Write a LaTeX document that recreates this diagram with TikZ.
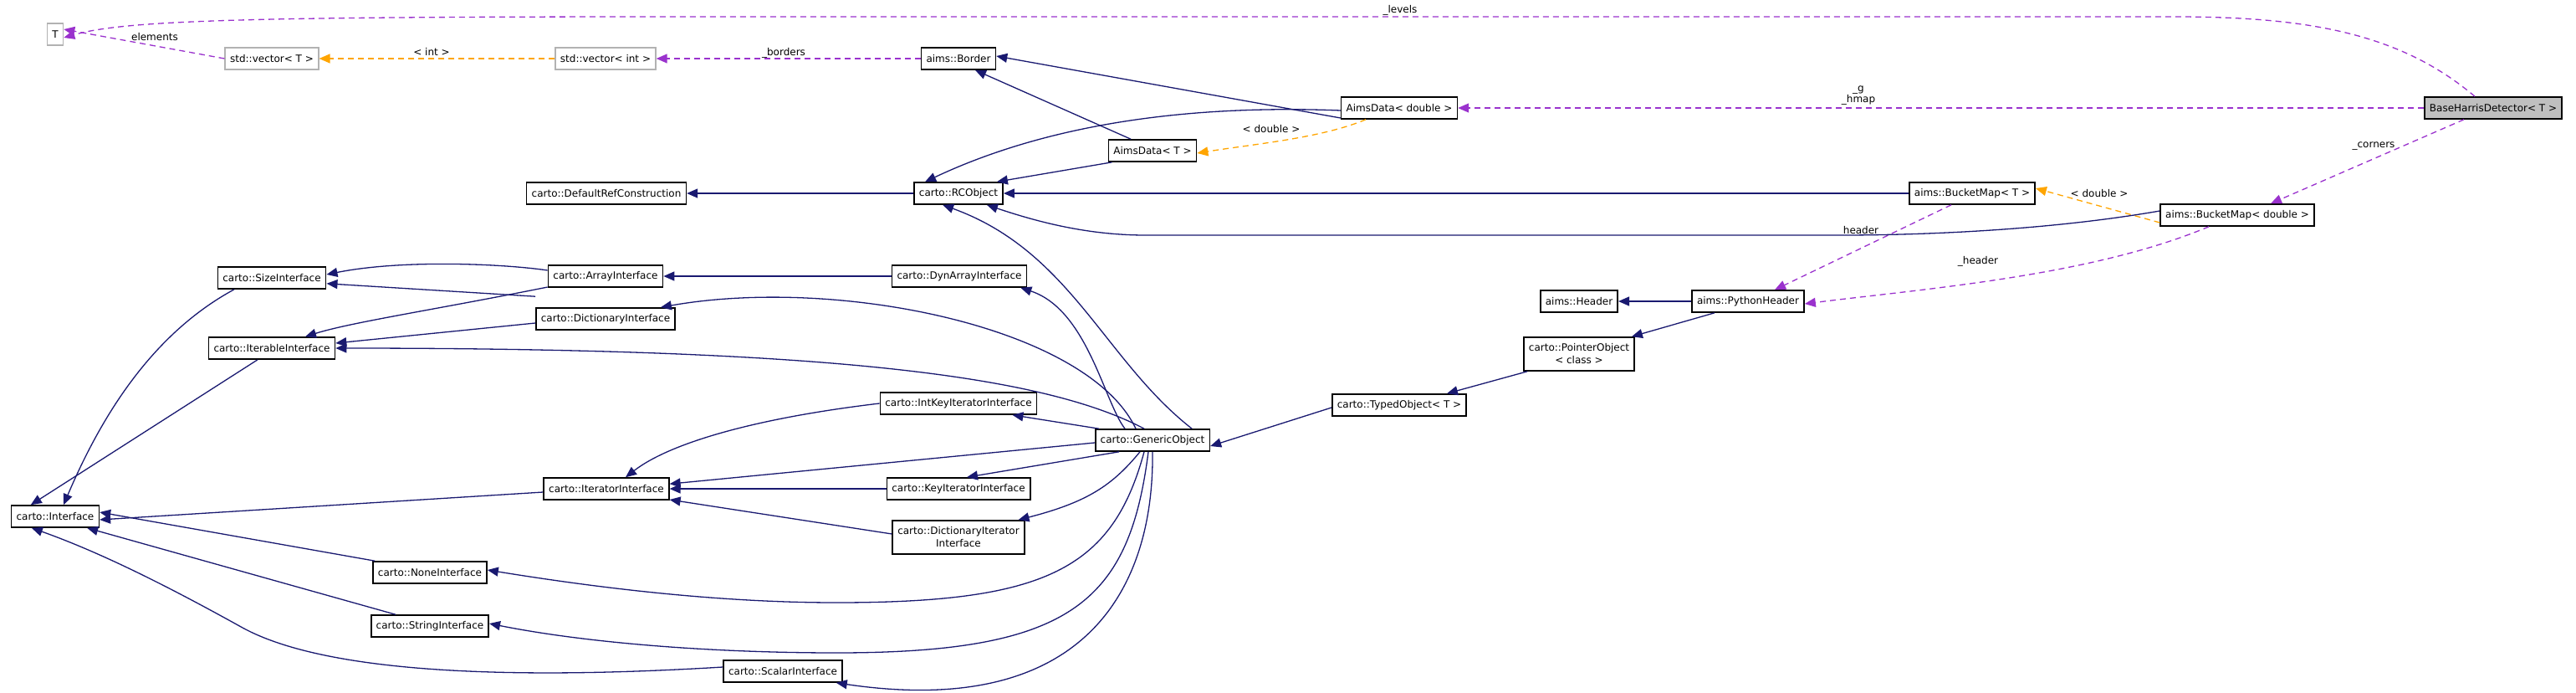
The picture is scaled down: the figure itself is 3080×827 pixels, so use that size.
\documentclass[tikz,border=0pt]{standalone}
\usepackage{fontspec}
\setmainfont{DejaVu Sans}
\usetikzlibrary{arrows.meta}
\definecolor{navy}{RGB}{25,25,112}
\definecolor{orch}{RGB}{154,50,205}
\definecolor{org}{RGB}{255,165,0}
\begin{document}
\begin{tikzpicture}[x=1pt,y=-1pt,
 box/.style={draw=black,line width=1.6pt,fill=white,inner xsep=6pt,inner ysep=0pt,minimum height=26pt,align=center,font=\fontsize{12}{15}\selectfont},
 gbox/.style={box,draw=black!30,line width=1.3pt},
 tip/.style={-{Triangle[length=13pt,width=11pt]}},
 inh/.style={tip,draw=navy,line width=1.3pt},
 mem/.style={tip,draw=orch,line width=1.3pt,dash pattern=on 7pt off 5pt},
 tmpl/.style={tip,draw=org,line width=1.3pt,dash pattern=on 7pt off 5pt},
 lbl/.style={font=\fontsize{12}{13}\selectfont,inner sep=0pt}]
\useasboundingbox (0,0) rectangle (3080,827);
% nodes
\node[gbox] (t) at (66,41) {T};
\node[gbox] (vt) at (325,70) {std::vector< T >};
\node[gbox] (vi) at (724,70) {std::vector< int >};
\node[box] (bo) at (1146,70) {aims::Border};
\node[box] (ad) at (1673,129) {AimsData< double >};
\node[box] (at) at (1378,180) {AimsData< T >};
\node[box,fill=black!25] (bh) at (2981,129) {BaseHarrisDetector< T >};
\node[box] (dr) at (725,231) {carto::DefaultRefConstruction};
\node[box] (rc) at (1146,231) {carto::RCObject};
\node[box] (bt) at (2358,231) {aims::BucketMap< T >};
\node[box] (bd) at (2675,257) {aims::BucketMap< double >};
\node[box] (si) at (325,332) {carto::SizeInterface};
\node[box] (ai) at (724,330) {carto::ArrayInterface};
\node[box] (da) at (1147,330) {carto::DynArrayInterface};
\node[box] (di) at (724,381) {carto::DictionaryInterface};
\node[box] (ii) at (325,416) {carto::IterableInterface};
\node[box] (he) at (1888,360) {aims::Header};
\node[box] (ph) at (2090,360) {aims::PythonHeader};
\node[box,minimum height=40pt,inner ysep=3pt] (po) at (1888,423) {carto::PointerObject\\< class >};
\node[box] (to) at (1673,484) {carto::TypedObject< T >};
\node[box] (ik) at (1146,482) {carto::IntKeyIteratorInterface};
\node[box] (go) at (1378,526) {carto::GenericObject};
\node[box] (it) at (725,584) {carto::IteratorInterface};
\node[box] (ki) at (1146,584) {carto::KeyIteratorInterface};
\node[box,minimum height=40pt,inner ysep=3pt] (dii) at (1146,642) {carto::DictionaryIterator\\Interface};
\node[box] (in) at (66,617) {carto::Interface};
\node[box] (ni) at (514,684) {carto::NoneInterface};
\node[box] (st) at (514,748) {carto::StringInterface};
\node[box] (sc) at (936,802) {carto::ScalarInterface};
% member edges
\draw[mem] ([xshift=-22pt]bh.north) .. controls (2870,40) and (2760,20) .. (2600,20) -- (800,20) .. controls (300,20) and (150,24) .. ([yshift=-4pt]t.east);
\node[lbl] at (1674,12) {\_levels};
\draw[mem] (vt.west) -- ([yshift=6pt]t.east);
\node[lbl] at (185,44) {elements};
\draw[mem] (bo) -- (vi);
\node[lbl] at (937,63) {\_borders};
\draw[mem] (bh) -- (ad);
\node[lbl,align=center] at (2222,114) {\_g\\\_hmap};
\draw[mem] ([xshift=-35pt]bh.south) -- ([xshift=40pt]bd.north);
\node[lbl] at (2838,175) {\_corners};
\draw[mem] ([xshift=-25pt]bt.south) -- ([xshift=32pt]ph.north);
\node[lbl] at (2225,275) {header};
\draw[mem] ([xshift=-34pt]bd.south) .. controls (2500,330) and (2300,345) .. ([yshift=-3pt]ph.east);
\node[lbl] at (2365,312) {\_header};
% template edges
\draw[tmpl] (vi) -- (vt);
\node[lbl] at (516,62) {< int >};
\draw[tmpl] ([xshift=-40pt]ad.south) .. controls (1580,165) and (1500,172) .. ([yshift=-3pt]at.east);
\node[lbl] at (1520,154) {< double >};
\draw[tmpl] ([yshift=-9pt]bd.west) -- ([yshift=6pt]bt.east);
\node[lbl] at (2510,231) {< double >};
% inheritance
\draw[inh] ([yshift=-12pt]ad.west) -- ([yshift=3pt]bo.east);
\draw[inh] ([xshift=-26pt]at.north) -- ([xshift=20pt]bo.south);
\draw[inh] ([yshift=-3pt]ad.west) .. controls (1450,126) and (1270,140) .. ([xshift=14pt]rc.north west);
\draw[inh] ([xshift=5pt]at.south west) -- ([xshift=-8pt]rc.north east);
\draw[inh] (rc) -- (dr);
\draw[inh] (bt) -- (rc);
\draw[inh] ([yshift=5pt]bd.west) .. controls (2450,275) and (2300,281) .. (2200,281) -- (1370,281) .. controls (1300,281) and (1240,265) .. ([xshift=-20pt]rc.south east);
\draw[inh] ([xshift=-22pt]go.north east) .. controls (1320,430) and (1280,300) .. ([xshift=35pt]rc.south west);
\draw[inh] ([yshift=7pt]ai.west) .. controls (600,315) and (480,310) .. ([yshift=4pt]si.east);
\draw[inh] ([yshift=-13pt]ai.west) .. controls (520,370) and (420,385) .. ([xshift=40pt]ii.north);
\draw[inh] ([yshift=13pt]di.north west) -- ([yshift=7pt]si.south east);
\draw[inh] ([yshift=-5pt]di.west) -- ([yshift=6pt]ii.east);
\draw[inh] (da) -- (ai);
\draw[inh] ([xshift=-33pt]go.north) .. controls (1320,480) and (1300,370) .. ([xshift=-8pt]da.south east);
\draw[inh] ([xshift=-20pt]go.north) .. controls (1300,390) and (1000,330) .. ([xshift=-18pt]di.north east);
\draw[inh] ([xshift=-10pt]go.north) .. controls (1250,450) and (1000,416) .. (ii.east);
\draw[inh] ([xshift=5pt]go.north west) -- ([xshift=-30pt]ik.south east);
\draw[inh] ([yshift=-3pt]go.west) -- ([yshift=-8pt]it.north east);
\draw[inh] ([xshift=-40pt]go.south) -- ([xshift=10pt]ki.north);
\draw[inh] ([xshift=-15pt]go.south) .. controls (1330,580) and (1300,600) .. ([xshift=-8pt]dii.north east);
\draw[inh] ([xshift=-10pt]go.south) .. controls (1330,680) and (1250,720) .. (1000,720) .. controls (850,720) and (700,700) .. ([yshift=3pt]ni.east);
\draw[inh] ([xshift=-5pt]go.south) .. controls (1350,720) and (1280,780) .. (1000,780) .. controls (850,780) and (700,768) .. ([yshift=3pt]st.east);
\draw[inh] (go.south) .. controls (1380,700) and (1300,860) .. ([xshift=-8pt]sc.south east);
\draw[inh] (ik.west) .. controls (900,500) and (800,530) .. ([xshift=23pt]it.north);
\draw[inh] (ki) -- (it);
\draw[inh] ([yshift=4pt]dii.west) -- ([yshift=-13pt]it.east);
\draw[inh] ([yshift=-4pt]it.west) -- ([yshift=-4pt]in.east);
\draw[inh] ([xshift=-45pt]si.south) .. controls (180,400) and (120,500) .. ([xshift=10pt]in.north);
\draw[inh] ([xshift=-17pt]ii.south) -- ([xshift=24pt]in.north west);
\draw[inh] ([xshift=3pt]ni.north west) -- ([yshift=5pt]in.east);
\draw[inh] ([xshift=30pt]st.north west) -- ([xshift=-15pt]in.south east);
\draw[inh] ([yshift=5pt]sc.west) .. controls (650,810) and (400,810) .. (290,750) .. controls (200,700) and (120,660) .. ([xshift=25pt]in.south west);
\draw[inh] ([yshift=-3pt]to.west) -- ([yshift=-7pt]go.east);
\draw[inh] ([xshift=5pt]po.south west) -- ([xshift=-24pt]to.north east);
\draw[inh] ([xshift=-40pt]ph.south) -- ([xshift=-4pt]po.north east);
\draw[inh] (ph) -- (he);
\end{tikzpicture}
\end{document}
